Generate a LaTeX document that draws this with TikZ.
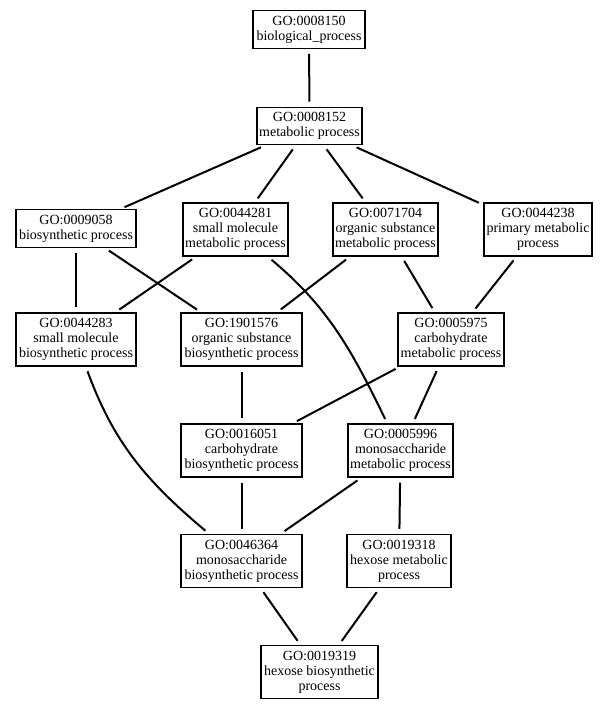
\documentclass[tikz,border=0pt]{standalone}
\usepackage{fontspec}
\setmainfont{Liberation Serif}
\begin{document}
\begin{tikzpicture}[x=1pt,y=-1pt]
\tikzset{
  term/.style={draw, line width=1.1pt, rectangle, align=center,
    font=\fontsize{14}{15}\selectfont, inner xsep=2pt, inner ysep=2pt},
  twoline/.style={minimum height=37.5pt},
  threeline/.style={minimum height=53pt},
  link/.style={line width=2pt, shorten >=5pt, shorten <=5pt},
}
\useasboundingbox (0,0) rectangle (607,708);
\node[term,twoline,minimum width=112pt] (n8150) at (309,29.5) {GO:0008150\\biological\_process};
\node[term,twoline,minimum width=105pt] (n8152) at (309.5,126) {GO:0008152\\metabolic process};
\node[term,twoline,minimum width=120pt] (n9058) at (76,228.5) {GO:0009058\\biosynthetic process};
\node[term,threeline,minimum width=105pt] (n44281) at (235.5,229.5) {GO:0044281\\small molecule\\metabolic process};
\node[term,threeline,minimum width=105pt] (n71704) at (385.5,229.5) {GO:0071704\\organic substance\\metabolic process};
\node[term,threeline,minimum width=108pt] (n44238) at (538,229.5) {GO:0044238\\primary metabolic\\process};
\node[term,threeline,minimum width=120pt] (n44283) at (76,339.5) {GO:0044283\\small molecule\\biosynthetic process};
\node[term,threeline,minimum width=121pt] (n1901576) at (241.5,339.5) {GO:1901576\\organic substance\\biosynthetic process};
\node[term,threeline,minimum width=106pt] (n5975) at (451,339.5) {GO:0005975\\carbohydrate\\metabolic process};
\node[term,threeline,minimum width=121pt] (n16051) at (241.5,450.5) {GO:0016051\\carbohydrate\\biosynthetic process};
\node[term,threeline,minimum width=105pt] (n5996) at (400.5,450.5) {GO:0005996\\monosaccharide\\metabolic process};
\node[term,threeline,minimum width=121pt] (n46364) at (241.5,561) {GO:0046364\\monosaccharide\\biosynthetic process};
\node[term,threeline,minimum width=104pt] (n19318) at (399,561) {GO:0019318\\hexose metabolic\\process};
\node[term,threeline,minimum width=117pt] (n19319) at (319.5,672) {GO:0019319\\hexose biosynthetic\\process};

\draw[link] (n8150) -- (n8152);
\draw[link] (n8152) -- (n9058);
\draw[link] (n8152) -- (n44281);
\draw[link] (n8152) -- (n71704);
\draw[link] (n8152) -- (n44238);
\draw[link] (n9058) -- (n44283);
\draw[link] (n9058) -- (n1901576);
\draw[link] (n44281) -- (n44283);
\draw[link] (n44281) to[out=-40,in=116] (n5996);
\draw[link] (n71704) -- (n1901576);
\draw[link] (n71704) -- (n5975);
\draw[link] (n44238) -- (n5975);
\draw[link] (n44283) to[out=-70,in=140] (n46364);
\draw[link] (n1901576) -- (n16051);
\draw[link] (n5975) -- (n16051);
\draw[link] (n5975) -- (n5996);
\draw[link] (n16051) -- (n46364);
\draw[link] (n5996) -- (n46364);
\draw[link] (n5996) -- (n19318);
\draw[link] (n46364) -- (n19319);
\draw[link] (n19318) -- (n19319);
\end{tikzpicture}
\end{document}
